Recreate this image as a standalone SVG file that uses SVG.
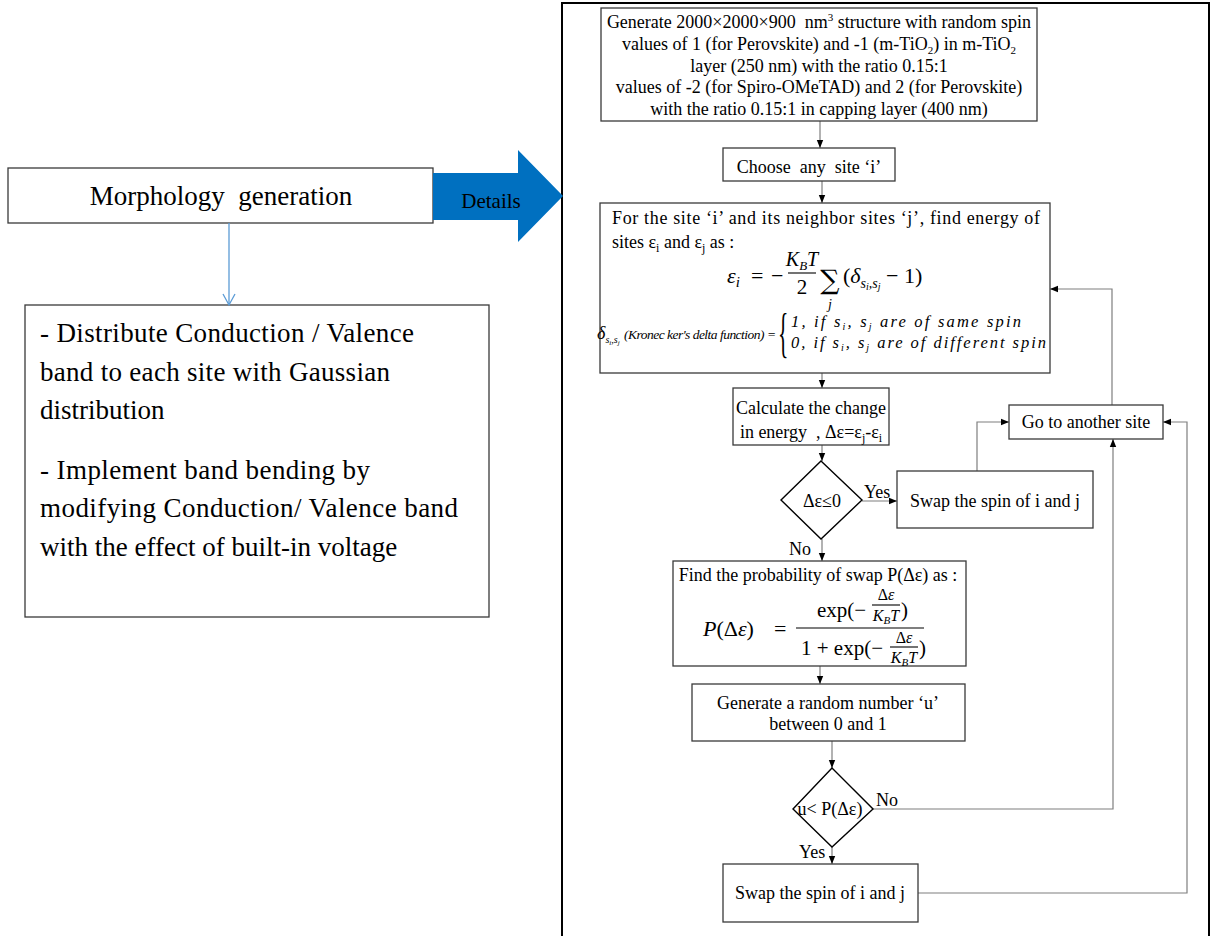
<svg xmlns="http://www.w3.org/2000/svg" width="1214" height="936" viewBox="0 0 1214 936" font-family="'Liberation Serif','Times New Roman',serif">
<style>
text{font-family:"Liberation Serif","Times New Roman",serif;fill:#000}
.t18{font-size:18px}
.t27{font-size:27px}
.c{text-anchor:middle}
.box{fill:#fff;stroke:#3a3a3a;stroke-width:1.3}
.dia{fill:#fff;stroke:#000;stroke-width:1.4}
.con{fill:none;stroke:#7f7f7f;stroke-width:1.2}
.m{font-style:italic}
.bar{stroke:#000;stroke-width:1.1}
</style>
<defs>
<marker id="ah" markerWidth="8" markerHeight="8" refX="8" refY="4" orient="auto" markerUnits="userSpaceOnUse"><path d="M0,0.8 L8,4 L0,7.2Z" fill="#000"/></marker>
<marker id="chev" markerWidth="14" markerHeight="14" refX="12" refY="7" orient="auto" markerUnits="userSpaceOnUse"><path d="M1,1 L12,7 L1,13" fill="none" stroke="#5b9bd5" stroke-width="1.3"/></marker>
</defs>
<rect x="0" y="0" width="1214" height="936" fill="#fff"/>

<!-- outer frame -->
<rect id="frame" x="562" y="3" width="647" height="960" fill="none" stroke="#000" stroke-width="2"/>

<!-- left side -->
<g id="morphology">
<rect class="box" x="8" y="168" width="425" height="55"/>
<text class="t27 c" x="221" y="205" xml:space="preserve">Morphology  generation</text>
</g>
<g id="details-arrow">
<polygon points="433,173 518,173 518,150 563,196 518,242 518,220 433,220" fill="#0070c0"/>
<text x="491" y="208" font-size="21" class="c">Details</text>
</g>
<g id="detail-box">
<rect class="box" x="25" y="305" width="464" height="312"/>
<text class="t27" x="40" y="342" textLength="374" lengthAdjust="spacing">- Distribute Conduction / Valence</text>
<text class="t27" x="40" y="381" textLength="350" lengthAdjust="spacing">band to each site with Gaussian</text>
<text class="t27" x="40" y="419">distribution</text>
<text class="t27" x="40" y="479" textLength="330" lengthAdjust="spacing">- Implement band bending by</text>
<text class="t27" x="40" y="517" textLength="418" lengthAdjust="spacing">modifying Conduction/ Valence band</text>
<text class="t27" x="40" y="556">with the effect of built-in voltage</text>
</g>

<!-- connectors -->
<g id="connectors">
<line x1="229" y1="223" x2="229" y2="305" stroke="#5b9bd5" stroke-width="1.3" marker-end="url(#chev)"/>
<line class="con" x1="820" y1="121" x2="820" y2="148" marker-end="url(#ah)"/>
<line class="con" x1="822" y1="181" x2="822" y2="203" marker-end="url(#ah)"/>
<line class="con" x1="822" y1="373" x2="822" y2="388" marker-end="url(#ah)"/>
<line class="con" x1="822" y1="445" x2="822" y2="461" marker-end="url(#ah)"/>
<line class="con" x1="862" y1="501" x2="897" y2="501" marker-end="url(#ah)"/>
<line class="con" x1="822" y1="539" x2="822" y2="561" marker-end="url(#ah)"/>
<polyline class="con" points="977,471 977,422 1009,422" marker-end="url(#ah)"/>
<polyline class="con" points="1112,405 1112,289 1050,289" marker-end="url(#ah)"/>
<line class="con" x1="820" y1="666" x2="820" y2="684" marker-end="url(#ah)"/>
<line class="con" x1="832" y1="741" x2="832" y2="768" marker-end="url(#ah)"/>
<line class="con" x1="832" y1="847" x2="832" y2="864" marker-end="url(#ah)"/>
<polyline class="con" points="873,809 1113,809 1113,439" marker-end="url(#ah)"/>
<polyline class="con" points="918,893 1187,893 1187,422 1163,422" marker-end="url(#ah)"/>
<text class="t18" x="864" y="498">Yes</text>
<text class="t18" x="789" y="555">No</text>
<text class="t18" x="876" y="806">No</text>
<text class="t18" x="799" y="858">Yes</text>
</g>

<g id="generate-structure">
<rect class="box" x="601" y="8" width="436" height="113"/>
<text class="t18 c" x="819" y="28" xml:space="preserve">Generate 2000×2000×900  nm<tspan font-size="11" dy="-7">3</tspan><tspan dy="7"> structure with random spin</tspan></text>
<text class="t18 c" x="819" y="50">values of 1 (for Perovskite) and -1 (m-TiO<tspan font-size="11" dy="4">2</tspan><tspan dy="-4">) in m-TiO</tspan><tspan font-size="11" dy="4">2</tspan></text>
<text class="t18 c" x="819" y="72">layer (250 nm) with the ratio 0.15:1</text>
<text class="t18 c" x="819" y="93">values of -2 (for Spiro-OMeTAD) and 2 (for Perovskite)</text>
<text class="t18 c" x="819" y="115">with the ratio 0.15:1 in capping layer (400 nm)</text>
</g>

<g id="choose-site">
<rect class="box" x="723" y="148" width="172" height="33"/>
<text class="t18 c" x="809" y="173" xml:space="preserve">Choose  any  site ‘i’</text>
</g>

<g id="site-energy">
<rect class="box" x="600" y="203" width="450" height="170"/>
<text class="t18" x="612" y="224" textLength="428" lengthAdjust="spacing">For the site ‘i’ and its neighbor sites ‘j’, find energy of</text>
<text class="t18" x="612" y="248">sites ε<tspan font-size="12" dy="4">i</tspan><tspan dy="-4"> and ε</tspan><tspan font-size="12" dy="4">j</tspan><tspan dy="-4"> as :</tspan></text>
<!-- formula -->
<text class="m" x="727" y="283" font-size="22">ε<tspan font-size="15" dy="4">i</tspan></text>
<text x="751" y="283" font-size="22">=</text>
<text x="771" y="283" font-size="22">−</text>
<text class="m c" x="802" y="266" font-size="20">K<tspan font-size="13" dy="4">B</tspan><tspan dy="-4">T</tspan></text>
<line class="bar" x1="788" y1="273" x2="816" y2="273"/>
<text class="c" x="802" y="294" font-size="21">2</text>
<text class="c" x="830" y="289" font-size="27" style="font-family:'DejaVu Serif',serif">∑</text>
<text class="m c" x="830" y="309" font-size="14">j</text>
<text x="843" y="283" font-size="22">(<tspan class="m">δ</tspan><tspan class="m" font-size="14" dy="5">s</tspan><tspan class="m" font-size="10" dy="2">i</tspan><tspan class="m" font-size="14" dy="-2">,s</tspan><tspan class="m" font-size="10" dy="2">j</tspan><tspan dy="-7"> − 1)</tspan></text>
<!-- kronecker -->
<text class="m" x="597" y="339" font-size="18">δ<tspan font-size="10" dy="4">s</tspan><tspan font-size="7" dy="2">i</tspan><tspan font-size="10" dy="-2">,s</tspan><tspan font-size="7" dy="2">j</tspan></text>
<text class="m" x="624" y="339" font-size="13.5" textLength="152" lengthAdjust="spacing">(Kronec ker's delta function) =</text>
<text transform="translate(778,351) scale(0.4,1)" font-size="54">{</text>
<text class="m" x="791" y="327" font-size="16.5" textLength="230" lengthAdjust="spacing">1, if s<tspan font-size="10" dy="3">i</tspan><tspan dy="-3">, s</tspan><tspan font-size="10" dy="3">j</tspan><tspan dy="-3"> are of same spin</tspan></text>
<text class="m" x="791" y="348" font-size="16.5" textLength="255" lengthAdjust="spacing">0, if s<tspan font-size="10" dy="3">i</tspan><tspan dy="-3">, s</tspan><tspan font-size="10" dy="3">j</tspan><tspan dy="-3"> are of different spin</tspan></text>
</g>

<g id="calc-change">
<rect class="box" x="733" y="388" width="156" height="57"/>
<text class="t18 c" x="811" y="414">Calculate the change</text>
<text class="t18 c" x="811" y="438" xml:space="preserve">in energy  , Δε=ε<tspan font-size="12" dy="4">j</tspan><tspan dy="-4">-ε</tspan><tspan font-size="12" dy="4">i</tspan></text>
</g>

<g id="decision-1">
<polygon class="dia" points="821,461 862,500 821,539 781,500"/>
<text class="t18 c" x="822" y="507">Δε≤0</text>
</g>

<g id="swap-1">
<rect class="box" x="897" y="471" width="196" height="57"/>
<text class="t18 c" x="995" y="507">Swap the spin of i and j</text>
</g>

<g id="another-site">
<rect class="box" x="1009" y="405" width="154" height="34"/>
<text class="t18 c" x="1086" y="428">Go to another site</text>
</g>

<g id="probability">
<rect class="box" x="673" y="561" width="293" height="105"/>
<text class="t18 c" x="818" y="581">Find the probability of swap P(Δε) as :</text>
<text x="703" y="636" font-size="22"><tspan class="m">P</tspan>(Δ<tspan class="m">ε</tspan>)</text>
<text x="774" y="636" font-size="22">=</text>
<line class="bar" x1="796" y1="628" x2="924" y2="628"/>
<text x="817" y="617" font-size="21">exp(−</text>
<text class="c" x="886" y="600" font-size="16">Δ<tspan class="m">ε</tspan></text>
<line class="bar" x1="872" y1="605" x2="900" y2="605"/>
<text class="m c" x="886" y="621" font-size="16">K<tspan font-size="11" dy="3">B</tspan><tspan dy="-3">T</tspan></text>
<text x="901" y="617" font-size="21">)</text>
<text x="801" y="655" font-size="21">1 + exp(−</text>
<text class="c" x="904" y="643" font-size="16">Δ<tspan class="m">ε</tspan></text>
<line class="bar" x1="890" y1="647" x2="918" y2="647"/>
<text class="m c" x="904" y="663" font-size="16">K<tspan font-size="11" dy="3">B</tspan><tspan dy="-3">T</tspan></text>
<text x="919" y="655" font-size="21">)</text>
</g>

<g id="random-number">
<rect class="box" x="692" y="684" width="273" height="57"/>
<text class="t18 c" x="828" y="709">Generate a random number ‘u’</text>
<text class="t18 c" x="828" y="730">between 0 and 1</text>
</g>

<g id="decision-2">
<polygon class="dia" points="832,768 873,809 832,847 793,809"/>
<text class="t18 c" x="830" y="815">u&lt; P(Δε)</text>
</g>

<g id="swap-2">
<rect class="box" x="723" y="864" width="195" height="58"/>
<text class="t18 c" x="820" y="899">Swap the spin of i and j</text>
</g>
</svg>
